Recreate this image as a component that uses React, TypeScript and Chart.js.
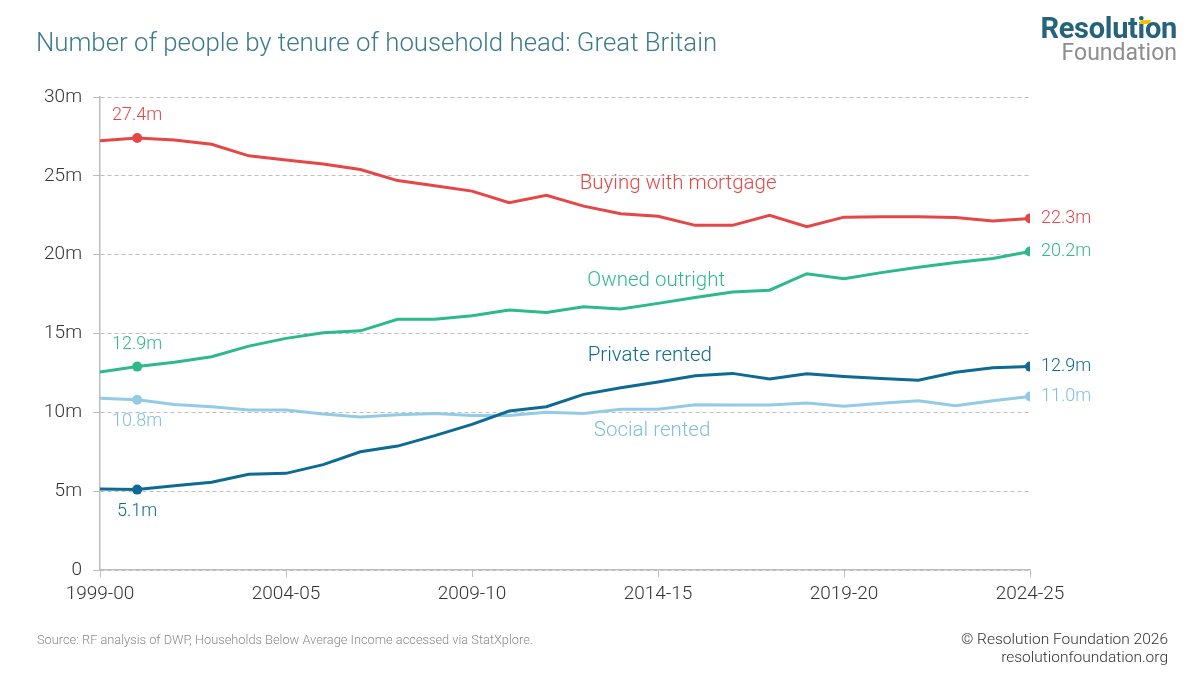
import React, { useEffect, useRef } from "react";
import { Chart, registerables } from "chart.js";

Chart.register(...registerables);

const categories = [
  "1999-00", "2000-01", "2001-02", "2002-03", "2003-04", "2004-05", "2005-06", "2006-07",
  "2007-08", "2008-09", "2009-10", "2010-11", "2011-12", "2012-13", "2013-14", "2014-15",
  "2015-16", "2016-17", "2017-18", "2018-19", "2019-20", "2020-21", "2021-22", "2022-23",
  "2023-24", "2024-25",
];

const mortgage = [
  27.22, 27.4, 27.27, 27.0, 26.27, 26.0, 25.75, 25.4, 24.7, 24.37, 24.03, 23.3, 23.76,
  23.08, 22.6, 22.43, 21.86, 21.86, 22.5, 21.77, 22.38, 22.4, 22.4, 22.36, 22.13, 22.3,
];
const outright = [
  12.56, 12.9, 13.17, 13.53, 14.2, 14.69, 15.05, 15.17, 15.9, 15.9, 16.13, 16.49, 16.34,
  16.7, 16.55, 16.91, 17.29, 17.63, 17.75, 18.79, 18.47, 18.86, 19.2, 19.51, 19.76, 20.2,
];
const privateRented = [
  5.13, 5.1, 5.35, 5.56, 6.07, 6.13, 6.68, 7.5, 7.86, 8.52, 9.24, 10.08, 10.36,
  11.14, 11.56, 11.92, 12.32, 12.47, 12.11, 12.45, 12.28, 12.15, 12.03, 12.54, 12.83, 12.9,
];
const socialRented = [
  10.9, 10.8, 10.5, 10.36, 10.15, 10.15, 9.89, 9.7, 9.85, 9.93, 9.8, 9.8, 10.0,
  9.93, 10.2, 10.2, 10.48, 10.46, 10.46, 10.59, 10.38, 10.57, 10.74, 10.42, 10.74, 11.0,
];

const seriesNames = ["Buying with mortgage", "Owned outright", "Private rented", "Social rented"];
const seriesColors = ["#e64646", "#2dba8a", "#0d6a93", "#93cbe6"];
const labelColors = ["#e64646", "#2dba8a", "#0d6a93", "#7fbfdf"];
const yTickValues = [0, 5, 10, 15, 20, 25, 30];
const xTickValues = [0, 5, 10, 15, 20, 25];

// name labels anchored in data coordinates (x index, value)
const nameLabelX = [15.54, 14.95, 14.78, 14.84];
const nameLabelY = [24.48, 18.33, 13.57, 8.81];

// which side of the highlighted first point the value label sits (-1 above, 1 below)
const firstLabelSide = [-1, -1, 1, 1];
const highlightIdx = [1, 25];

const FONT = "Roboto, 'Noto Sans', sans-serif";

const labelPlugin = {
  id: "labelPlugin",
  afterDatasetsDraw(chart: any) {
    const ctx = chart.ctx;
    const xs = chart.scales.x;
    const ys = chart.scales.y;
    ctx.save();
    chart.data.datasets.forEach((ds: any, di: number) => {
      const meta = chart.getDatasetMeta(di);
      const first = meta.data[highlightIdx[0]];
      const last = meta.data[highlightIdx[1]];
      const vals = ds.data;
      ctx.fillStyle = labelColors[di];
      ctx.font = `300 18px ${FONT}`;
      ctx.textAlign = "center";
      ctx.textBaseline = "middle";
      ctx.fillText(
        vals[highlightIdx[0]].y.toFixed(1) + "m",
        first.x,
        first.y + firstLabelSide[di] * 22
      );
      ctx.textAlign = "left";
      ctx.fillText(vals[highlightIdx[1]].y.toFixed(1) + "m", last.x + 11, last.y);
      ctx.font = `300 20.5px ${FONT}`;
      ctx.textAlign = "center";
      ctx.fillText(
        seriesNames[di],
        xs.getPixelForValue(nameLabelX[di]),
        ys.getPixelForValue(nameLabelY[di])
      );
    });
    ctx.restore();
  },
};

export default function App() {
  const ref = useRef<HTMLCanvasElement | null>(null);

  useEffect(() => {
    if (!ref.current) return;
    const all = [mortgage, outright, privateRented, socialRented];
    const chart = new Chart(ref.current, {
      type: "line",
      data: {
        datasets: all.map((arr, i) => ({
          label: seriesNames[i],
          data: arr.map((v, j) => ({ x: j, y: v })),
          borderColor: seriesColors[i],
          backgroundColor: seriesColors[i],
          borderWidth: 3,
          tension: 0,
          pointRadius: (c: any) => (highlightIdx.includes(c.dataIndex) ? 5 : 0),
          pointHoverRadius: 0,
          pointBorderWidth: 0,
        })),
      },
      options: {
        responsive: false,
        maintainAspectRatio: false,
        animation: false,
        layout: { padding: { left: 0, top: 97, right: 170, bottom: 0 } },
        plugins: { legend: { display: false }, tooltip: { enabled: false } },
        scales: {
          x: {
            type: "linear",
            min: 0,
            max: 25,
            afterFit: (s: any) => {
              s.height = 105;
            },
            afterBuildTicks: (s: any) => {
              s.ticks = xTickValues.map((v) => ({ value: v }));
            },
            ticks: {
              callback: (v: any) => categories[Number(v)],
              font: { family: FONT, size: 19, weight: "300" },
              color: "#333",
              padding: 6,
              maxRotation: 0,
            },
            grid: {
              drawOnChartArea: false,
              drawTicks: true,
              tickLength: 7,
              color: "#bdbdbd",
            },
            border: { color: "#bdbdbd", width: 1.5 },
          },
          y: {
            min: 0,
            max: 30,
            afterFit: (s: any) => {
              s.width = 100;
            },
            afterBuildTicks: (s: any) => {
              s.ticks = yTickValues.map((v) => ({ value: v }));
            },
            ticks: {
              callback: (v: any) => (Number(v) === 0 ? "0" : v + "m"),
              font: { family: FONT, size: 19, weight: "300" },
              color: "#333",
              padding: 11,
            },
            grid: {
              color: "#bdbdbd",
              lineWidth: 1,
              tickLength: 7,
              drawTicks: true,
            },
            border: { color: "#bdbdbd", width: 1.5, dash: [4, 3] },
          },
        },
      },
      plugins: [labelPlugin],
    } as any);
    return () => chart.destroy();
  }, []);

  return (
    <div
      style={{
        position: "fixed",
        left: 0,
        top: 0,
        width: 1200,
        height: 675,
        background: "#fff",
        fontFamily: FONT,
        overflow: "hidden",
      }}
    >
      <canvas
        ref={ref}
        width={1200}
        height={675}
        style={{ position: "absolute", left: 0, top: 0, width: 1200, height: 675 }}
      />
      <div
        style={{
          position: "absolute",
          left: 36,
          top: 27,
          fontSize: 25.8,
          fontWeight: 300,
          color: "#3a7a8e",
          whiteSpace: "nowrap",
        }}
      >
        Number of people by tenure of household head: Great Britain
      </div>
      <div
        style={{
          position: "absolute",
          right: 23,
          top: 14,
          textAlign: "right",
          lineHeight: 1,
        }}
      >
        <div style={{ fontSize: 29, fontWeight: 700, color: "#25627b", letterSpacing: -0.3 }}>
          Resolution
        </div>
        <div style={{ fontSize: 23, fontWeight: 400, color: "#8d8d8d", marginTop: -2 }}>
          Foundation
        </div>
      </div>
      <div
        style={{
          position: "absolute",
          left: 1140,
          top: 20,
          width: 10,
          height: 4,
          background: "#f2c200",
          transform: "skewX(-30deg)",
        }}
      />
      <div
        style={{
          position: "absolute",
          left: 37,
          top: 632,
          fontSize: 12.8,
          fontWeight: 300,
          color: "#8a8a8a",
          whiteSpace: "nowrap",
        }}
      >
        Source: RF analysis of DWP, Households Below Average Income accessed via StatXplore.
      </div>
      <div
        style={{
          position: "absolute",
          right: 32,
          top: 630,
          fontSize: 15.5,
          fontWeight: 300,
          color: "#333",
          textAlign: "right",
          lineHeight: "18px",
          whiteSpace: "nowrap",
        }}
      >
        <div>© Resolution Foundation 2026</div>
        <div>resolutionfoundation.org</div>
      </div>
    </div>
  );
}
